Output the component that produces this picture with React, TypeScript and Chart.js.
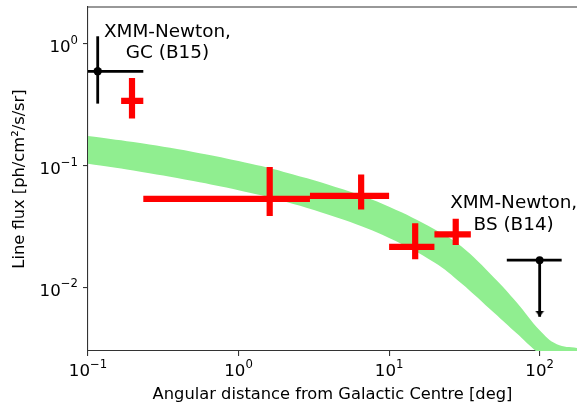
import React, { useEffect, useRef } from 'react';
import { Chart, registerables } from 'chart.js';

Chart.register(...registerables);

const FONT = "'DejaVu Sans', sans-serif";
const AXIS_COLOR = '#333333';

// ---- axes ----
const X_MIN = 0.1;
const X_MAX = 177;
const Y_MIN = 0.003;
const Y_MAX = 2.0;
const X_TICKS = [0.1, 1, 10, 100];
const Y_TICKS = [0.01, 0.1, 1];
const X_TITLE = 'Angular distance from Galactic Centre [deg]';
const Y_TITLE = 'Line flux [ph/cm²/s/sr]';

// ---- model band (upper / lower edge) ----
const BAND_X = [0.1, 0.2, 0.5, 1, 2, 5, 10, 20, 30, 50, 70, 100, 130, 180];
const BAND_UPPER = [0.1747, 0.1556, 0.1291, 0.1087, 0.0886, 0.0635, 0.0459, 0.03, 0.0218, 0.01193, 0.00757, 0.00444, 0.00341, 0.00317];
const BAND_LOWER = [0.1035, 0.091, 0.0746, 0.0626, 0.0509, 0.0358, 0.0254, 0.016, 0.01085, 0.00615, 0.00421, 0.00283, 0.00231, 0.00173];

// ---- red measurements ----
const RED_X = [0.196, 1.61, 6.52, 14.9, 27.7];
const RED_X_LO = [0.166, 0.233, 2.98, 10, 20];
const RED_X_HI = [0.233, 2.98, 10, 20, 34.9];
const RED_Y = [0.339, 0.0532, 0.0563, 0.0215, 0.0272];
const RED_Y_LO = [0.243, 0.0384, 0.0436, 0.017, 0.0222];
const RED_Y_HI = [0.522, 0.0974, 0.0844, 0.0335, 0.0365];

// ---- XMM-Newton GC (B15) ----
const GC_X = [0.116];
const GC_X_LO = [0.05];
const GC_X_HI = [0.233];
const GC_Y = [0.593];
const GC_Y_LO = [0.322];
const GC_Y_HI = [1.15];

// ---- XMM-Newton BS (B14) upper limit ----
const BS_X = [100];
const BS_X_LO = [60.5];
const BS_X_HI = [140];
const BS_Y = [0.0167];
const BS_ARROW_TO = [0.00574];

// ---- annotations ----
const GC_LABEL = ['XMM-Newton,', 'GC (B15)'];
const GC_LABEL_AT = { x: 0.337, y: 1.14 };
const BS_LABEL = ['XMM-Newton,', 'BS (B14)'];
const BS_LABEL_AT = { x: 67.2, y: 0.0445 };

type P = { x: number; y: number | null };

const hSegs = (lo: number[], hi: number[], ys: number[]): P[] =>
  lo.flatMap((l, i) => [
    { x: l, y: ys[i] },
    { x: hi[i], y: ys[i] },
    { x: hi[i], y: null },
  ]);

const vSegs = (xs: number[], lo: number[], hi: number[]): P[] =>
  xs.flatMap((x, i) => [
    { x, y: lo[i] },
    { x, y: hi[i] },
    { x, y: null },
  ]);

const pts = (xs: number[], ys: number[]): P[] => xs.map((x, i) => ({ x, y: ys[i] }));

const expText = (v: number) => {
  const e = Math.round(Math.log10(v));
  return e < 0 ? '\u2212' + Math.abs(e) : String(e);
};

const BASE_SIZE = 16.67;
const EXP_SIZE = 11.67;
const EXP_RAISE = 8.3;
const TITLE_SIZE = 16.3;

const mplPlugin = {
  id: 'mplDecor',
  afterDraw(chart: any) {
    const ctx = chart.ctx as CanvasRenderingContext2D;
    const { left, top, right, bottom } = chart.chartArea;
    const xs = chart.scales.x;
    const ys = chart.scales.y;
    ctx.save();
    // top spine
    ctx.strokeStyle = AXIS_COLOR;
    ctx.lineWidth = 1.1;
    ctx.beginPath();
    ctx.moveTo(left, top);
    ctx.lineTo(right, top);
    ctx.stroke();

    ctx.fillStyle = '#000';
    ctx.textBaseline = 'alphabetic';
    ctx.textAlign = 'left';
    const drawPow = (x: number, baseline: number, v: number, align: 'center' | 'right') => {
      const e = expText(v);
      ctx.font = `${BASE_SIZE}px ${FONT}`;
      const wb = ctx.measureText('10').width;
      ctx.font = `${EXP_SIZE}px ${FONT}`;
      const we = ctx.measureText(e).width;
      const total = wb + we;
      const sx = align === 'center' ? x - total / 2 : x - total;
      ctx.font = `${BASE_SIZE}px ${FONT}`;
      ctx.fillText('10', sx, baseline);
      ctx.font = `${EXP_SIZE}px ${FONT}`;
      ctx.fillText(e, sx + wb, baseline - EXP_RAISE);
    };
    xs.ticks.forEach((t: any) => {
      drawPow(xs.getPixelForValue(t.value), bottom + 25, t.value, 'center');
    });
    ys.ticks.forEach((t: any) => {
      drawPow(left - 10, ys.getPixelForValue(t.value) + 8.4, t.value, 'right');
    });

    // annotations
    ctx.font = `18.4px ${FONT}`;
    ctx.textAlign = 'center';
    const note = (lines: string[], at: { x: number; y: number }) => {
      const px = xs.getPixelForValue(at.x);
      const py = ys.getPixelForValue(at.y);
      lines.forEach((s, i) => ctx.fillText(s, px, py + i * 21.7));
    };
    note(GC_LABEL, GC_LABEL_AT);
    note(BS_LABEL, BS_LABEL_AT);
    ctx.restore();
  },
};

export default function App() {
  const ref = useRef<HTMLCanvasElement>(null);
  useEffect(() => {
    const canvas = ref.current!;
    const head = document.createElement('canvas');
    head.width = 10;
    head.height = 12;
    const hctx = head.getContext('2d')!;
    hctx.fillStyle = '#000';
    hctx.beginPath();
    hctx.moveTo(0.5, 0);
    hctx.lineTo(9.5, 0);
    hctx.lineTo(5, 6);
    hctx.closePath();
    hctx.fill();

    const lineDs = (data: P[], color: string, width: number, order: number) => ({
      data,
      showLine: true,
      borderColor: color,
      borderWidth: width,
      borderCapStyle: 'butt',
      pointRadius: 0,
      spanGaps: false,
      tension: 0,
      order,
    });

    const chart = new Chart(canvas, {
      type: 'scatter',
      data: {
        datasets: [
          {
            data: pts(BAND_X, BAND_UPPER),
            showLine: true,
            borderColor: 'rgba(0,0,0,0)',
            borderWidth: 0,
            pointRadius: 0,
            backgroundColor: '#90EE90',
            fill: '+1',
            tension: 0.4,
            order: 20,
          },
          {
            data: pts(BAND_X, BAND_LOWER),
            showLine: true,
            borderColor: 'rgba(0,0,0,0)',
            borderWidth: 0,
            pointRadius: 0,
            fill: false,
            tension: 0.4,
            order: 21,
          },
          lineDs(hSegs(RED_X_LO, RED_X_HI, RED_Y), '#ff0000', 6.2, 10),
          lineDs(vSegs(RED_X, RED_Y_LO, RED_Y_HI), '#ff0000', 6.2, 10),
          lineDs(hSegs(GC_X_LO, GC_X_HI, GC_Y), '#000000', 2.8, 5),
          lineDs(vSegs(GC_X, GC_Y_LO, GC_Y_HI), '#000000', 2.8, 5),
          {
            data: pts(GC_X, GC_Y),
            pointRadius: 4.2,
            pointBackgroundColor: '#000',
            pointBorderWidth: 0,
            order: 1,
          },
          lineDs(hSegs(BS_X_LO, BS_X_HI, BS_Y), '#000000', 2.8, 5),
          lineDs(vSegs(BS_X, BS_Y, BS_ARROW_TO), '#000000', 2.8, 5),
          {
            data: pts(BS_X, BS_Y),
            pointRadius: 3.9,
            pointBackgroundColor: '#000',
            pointBorderWidth: 0,
            order: 1,
          },
          {
            data: pts(BS_X, BS_ARROW_TO),
            pointRadius: 5,
            pointStyle: head,
            order: 1,
          },
        ] as any,
      },
      options: {
        responsive: false,
        animation: false,
        events: [],
        layout: { autoPadding: false, padding: { left: 0, right: 0, top: 7, bottom: 0 } },
        plugins: {
          legend: { display: false },
          tooltip: { enabled: false },
          filler: { propagate: false },
        },
        scales: {
          x: {
            type: 'logarithmic',
            min: X_MIN,
            max: X_MAX,
            afterBuildTicks: (s: any) => {
              s.ticks = X_TICKS.map((v) => ({ value: v, major: true }));
            },
            ticks: { display: false },
            grid: { drawOnChartArea: false, drawTicks: true, tickLength: 5, color: AXIS_COLOR, lineWidth: 1.1 },
            border: { display: true, color: AXIS_COLOR, width: 1.1 },
            title: {
              display: true,
              text: X_TITLE,
              color: '#000',
              font: { family: FONT, size: TITLE_SIZE, lineHeight: 1.2 },
              padding: { top: 28.58, bottom: -2.14 },
            },
          },
          y: {
            type: 'logarithmic',
            min: Y_MIN,
            max: Y_MAX,
            afterBuildTicks: (s: any) => {
              s.ticks = Y_TICKS.map((v) => ({ value: v, major: true }));
            },
            ticks: { display: false },
            grid: { drawOnChartArea: false, drawTicks: true, tickLength: 5, color: AXIS_COLOR, lineWidth: 1.1 },
            border: { display: true, color: AXIS_COLOR, width: 1.1 },
            title: {
              display: true,
              text: Y_TITLE,
              color: '#000',
              font: { family: FONT, size: TITLE_SIZE, lineHeight: 1.2 },
              padding: { top: 9.58, bottom: 53.86 },
            },
          },
        },
      } as any,
      plugins: [mplPlugin],
    });
    return () => chart.destroy();
  }, []);

  return (
    <div style={{ position: 'fixed', left: 0, top: 0, width: 577, height: 402, background: '#fff' }}>
      <canvas ref={ref} width={577} height={402} style={{ display: 'block', width: 577, height: 402 }} />
    </div>
  );
}
